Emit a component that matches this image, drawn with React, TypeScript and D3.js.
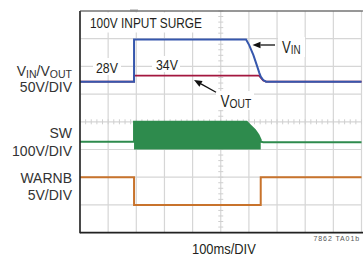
import React from "react";
import * as d3 from "d3";

// ---- data (time in ms, values in volts) ----
const vinT = [0, 192, 192, 590, 601, 616, 628, 637, 642, 651, 661, 1000];
const vinV = [28, 28, 104, 104, 94, 76, 58, 44, 37, 31, 28, 28];
const voutT = [0, 192, 192, 636, 643, 651, 661, 1000];
const voutV = [28, 28, 39, 39, 35, 30, 28, 28];
const swT = [0, 192, 192, 592, 604, 622, 634, 642, 642, 651, 1000];
const swV = [28, 28, 100, 100, 88, 70, 52, 34, 28, 26, 26];
const swEnvT = [192, 592, 604, 622, 634, 642];
const swEnvV = [100, 100, 88, 70, 52, 34];
const warnT = [0, 192, 192, 642, 642, 1000];
const warnV = [5, 5, 0, 0, 5, 5];
const xTicks = d3.range(0, 1001, 100);
const yDivs = d3.range(0, 9, 1);

const FONT = "'Liberation Sans', Arial, sans-serif";
const TXT = "#231f20";

function Cond(props: { x: number; y: number; sx?: number; size: number; anchor?: string; fill?: string; children: any }) {
  const { x, y, sx = 0.82, size, anchor = "start", fill = TXT, children } = props;
  return (
    <g transform={`translate(${x},${y}) scale(${sx},1)`}>
      <text x={0} y={0} fontSize={size} textAnchor={anchor} fill={fill}>
        {children}
      </text>
    </g>
  );
}

export default function App() {
  const x = d3.scaleLinear().domain([0, 1000]).range([80, 361.5]);
  const y = d3.scaleLinear().domain([0, 8]).range([232.6, 11]);
  const tr = (ground: number, vpd: number) => (v: number) => y(ground + v / vpd);
  const yVin = tr(4.888, 50);
  const ySw = tr(3.0, 100);
  const yWarn = tr(1.0, 5);

  const mk = (ts: number[], vs: number[], f: (v: number) => number) =>
    d3.line<number>().x((_, i) => x(ts[i])).y((_, i) => f(vs[i]))(ts.map((_, i) => i)) || "";

  const swArea =
    d3
      .area<number>()
      .x((_, i) => x(swEnvT[i]))
      .y0(() => ySw(0))
      .y1((_, i) => ySw(swEnvV[i]))(swEnvT.map((_, i) => i)) || "";

  const cx = x(500);
  const cy = y(4);
  const minorY = d3.range(0, 8.01, 0.2);
  const minorX = d3.range(0, 1000.1, 20);

  const arrow = (x1: number, y1: number, x2: number, y2: number) => {
    const a = Math.atan2(y2 - y1, x2 - x1);
    const L = 8, W = 3.2;
    const bx = x2 - L * Math.cos(a), by = y2 - L * Math.sin(a);
    const px = -Math.sin(a) * W, py = Math.cos(a) * W;
    return (
      <g>
        <line x1={x1} y1={y1} x2={bx} y2={by} stroke="#111" strokeWidth={1.3} />
        <path d={`M${x2},${y2}L${bx + px},${by + py}L${bx - px},${by - py}Z`} fill="#111" />
      </g>
    );
  };

  return (
    <svg width={363} height={258} style={{ position: "absolute", left: 0, top: 0, background: "#fff" }} fontFamily={FONT}>
      {/* grid */}
      {xTicks.map((t) => (
        <line key={"vx" + t} x1={x(t)} x2={x(t)} y1={y(8)} y2={y(0)} stroke="#d6d6d6" strokeWidth={1.2} />
      ))}
      {yDivs.map((d) => (
        <line key={"hy" + d} x1={x(0)} x2={x(1000)} y1={y(d)} y2={y(d)} stroke="#d6d6d6" strokeWidth={1.2} />
      ))}
      {minorY.map((d) => (
        <line key={"my" + d} x1={cx - 2.5} x2={cx + 2.5} y1={y(d)} y2={y(d)} stroke="#cfcfcf" strokeWidth={1} />
      ))}
      {minorX.map((t) => (
        <line key={"mx" + t} x1={x(t)} x2={x(t)} y1={cy - 2.5} y2={cy + 2.5} stroke="#cfcfcf" strokeWidth={1} />
      ))}

      {/* label backgrounds */}
      <rect x={81} y={12.5} width={127} height={20} fill="#fff" />
      <rect x={93} y={58} width={28} height={17} fill="#fff" />
      <rect x={152} y={56} width={28} height={16} fill="#fff" />
      <rect x={278} y={37} width={27} height={20} fill="#fff" />
      <rect x={216} y={91} width={38} height={19} fill="#fff" />
      <rect x={130} y={9} width={8} height={2.5} fill="#cfcfcf" />

      {/* traces */}
      <path d={swArea} fill="#2e8b4d" />
      <path d={mk(swT, swV, ySw)} fill="none" stroke="#2e8b4d" strokeWidth={2} />
      <path d={mk(warnT, warnV, yWarn)} fill="none" stroke="#c8732c" strokeWidth={2} />
      <path d={mk(voutT, voutV, yVin)} fill="none" stroke="#a3173f" strokeWidth={1.8} />
      <path d={mk(vinT, vinV, yVin)} fill="none" stroke="#3657ad" strokeWidth={2} />

      {/* frame */}
      <line x1={80} x2={80} y1={11} y2={233.2} stroke="#222" strokeWidth={1.6} />
      <line x1={80} x2={363} y1={11} y2={11} stroke="#444" strokeWidth={1.2} />
      <line x1={80} x2={363} y1={232.6} y2={232.6} stroke="#222" strokeWidth={1.6} />

      {/* in-plot texts */}
      <Cond x={90} y={27.5} size={14.5}>100V INPUT SURGE</Cond>
      <Cond x={96} y={73.3} size={15}>28V</Cond>
      <Cond x={156} y={70} size={15}>34V</Cond>
      <Cond x={282} y={53} size={16}>
        V<tspan fontSize={12} dy={0.5}>IN</tspan>
      </Cond>
      <Cond x={220.5} y={107} size={16.5}>
        V<tspan fontSize={12.5} dy={0.5}>OUT</tspan>
      </Cond>
      {arrow(275, 45, 252.5, 45)}
      {arrow(216, 92.3, 194, 80)}

      {/* left labels */}
      <g textAnchor="end" fill="#333" fontSize={14}>
        <text x={72} y={75.5}>
          V<tspan fontSize={10.5} dy={2}>IN</tspan>
          <tspan dy={-2}>/V</tspan>
          <tspan fontSize={10.5} dy={2}>OUT</tspan>
        </text>
        <text x={72} y={91.7}>50V/DIV</text>
        <text x={72} y={138}>SW</text>
        <text x={72} y={155.5}>100V/DIV</text>
        <text x={72} y={183.3}>WARNB</text>
        <text x={72} y={200}>5V/DIV</text>
      </g>

      <Cond x={192} y={254} size={14.5} sx={0.89}>100ms/DIV</Cond>
      <text x={360} y={241} fontSize={7} fill="#555" textAnchor="end" letterSpacing={0.9}>7862 TA01b</text>
    </svg>
  );
}
